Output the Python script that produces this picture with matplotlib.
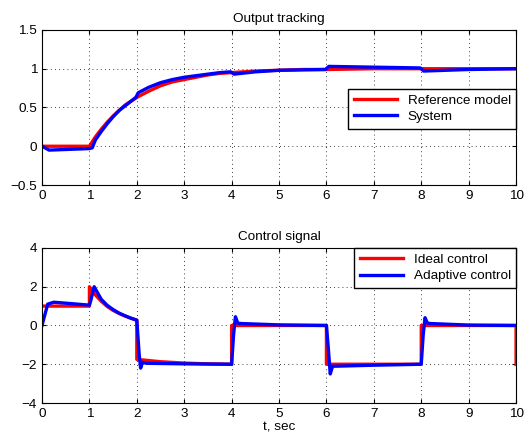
import matplotlib
matplotlib.use("Agg")
from matplotlib import pyplot as plt

plt.rcParams["font.family"] = ["Liberation Sans", "DejaVu Sans"]
plt.rcParams["font.size"] = 9.7

# output tracking
t_ref = [0, 1, 1.125, 1.25, 1.375, 1.5, 1.625, 1.75, 1.875, 2, 2.25, 2.5, 2.75, 3, 3.25,
         3.5, 3.75, 4, 4.5, 5, 5.5, 6, 7, 8, 10]
y_ref = [0, 0, 0.12, 0.22, 0.31, 0.39, 0.46, 0.53, 0.58, 0.63, 0.71, 0.78, 0.83, 0.86, 0.89,
         0.92, 0.94, 0.95, 0.97, 0.98, 0.99, 0.99, 1.0, 1.0, 1.0]

t_sys = [0, 0.15, 1.0, 1.06, 1.125, 1.25, 1.375, 1.5, 1.625, 1.75, 1.875, 1.98, 2.03, 2.25,
         2.5, 2.75, 3, 3.25, 3.5, 3.75, 3.98, 4.05, 4.5, 5, 5.98, 6.05, 7, 7.98, 8.05, 9, 10]
y_sys = [0, -0.05, -0.03, -0.02, 0.08, 0.19, 0.29, 0.38, 0.46, 0.52, 0.58, 0.63, 0.69, 0.76,
         0.82, 0.86, 0.89, 0.91, 0.93, 0.95, 0.96, 0.93, 0.96, 0.98, 0.99, 1.03, 1.02, 1.01,
         0.97, 0.99, 1.0]

# control signal
t_u = [0, 1, 1, 1.125, 1.25, 1.375, 1.5, 1.625, 1.75, 1.875, 2, 2, 2.5, 3, 3.5, 4, 4,
       6, 6, 8, 8, 10, 10]
u_id = [1, 1, 2, 1.58, 1.25, 0.98, 0.78, 0.62, 0.49, 0.37, 0.28, -1.75, -1.87, -1.94, -1.98,
        -2.0, 0, 0, -2, -2, 0, 0, -2]

t_a = [0, 0.12, 0.25, 1.0, 1.03, 1.1, 1.25, 1.375, 1.5, 1.625, 1.75, 1.875, 2.0, 2.05,
       2.08, 2.12, 2.2, 3, 4.0, 4.04, 4.08, 4.13, 4.2, 5, 6.0, 6.04, 6.08, 6.13, 6.2, 7,
       8.0, 8.04, 8.08, 8.13, 8.2, 9, 10]
u_ad = [0, 1.1, 1.2, 1.05, 1.3, 2.0, 1.35, 1.04, 0.82, 0.64, 0.5, 0.38, 0.27, -1.5,
        -2.2, -1.9, -1.95, -1.98, -2.0, -0.5, 0.45, 0.12, 0.1, 0.03, 0, -1.2, -2.5, -2.1,
        -2.1, -2.05, -2.0, -0.5, 0.4, 0.12, 0.1, 0.02, 0]

fig = plt.figure(figsize=(5.25, 4.38), dpi=100)
ax1 = fig.add_axes([0.080, 0.5776, 0.903, 0.354])
ax2 = fig.add_axes([0.080, 0.0799, 0.903, 0.354])


def style(ax):
    ax.grid(True, color="black", linestyle=(0, (1, 4)), linewidth=0.6)
    ax.tick_params(direction="in", top=True, right=True, length=3)
    ax.set_xlim(0, 10)
    ax.set_xticks(range(0, 11))
    for s in ax.spines.values():
        s.set_linewidth(0.8)


leg_kw = dict(fancybox=False, edgecolor="black", framealpha=1, handlelength=3.2,
              borderpad=0.4, labelspacing=0.3, borderaxespad=0)

ax1.plot(t_ref, y_ref, color="#ff0000", lw=2.4, label="Reference model")
ax1.plot(t_sys, y_sys, color="#0000ff", lw=2.4, label="System")
style(ax1)
ax1.set_ylim(-0.5, 1.5)
ax1.set_yticks([-0.5, 0, 0.5, 1, 1.5])
ax1.set_yticklabels(["\u22120.5", "0", "0.5", "1", "1.5"])
ax1.set_title("Output tracking", fontsize=9.7, pad=6)
ax1.legend(loc="upper right", bbox_to_anchor=(1.0, 0.62), **leg_kw)

ax2.plot(t_u, u_id, color="#ff0000", lw=2.4, label="Ideal control")
ax2.plot(t_a, u_ad, color="#0000ff", lw=2.4, label="Adaptive control")
style(ax2)
ax2.set_ylim(-4, 4)
ax2.set_yticks([-4, -2, 0, 2, 4])
ax2.set_yticklabels(["\u22124", "\u22122", "0", "2", "4"])
ax2.set_title("Control signal", fontsize=9.7, pad=6)
ax2.set_xlabel("t, sec", labelpad=1)
ax2.legend(loc="upper right", **leg_kw)

fig.savefig("out.png", dpi=100)
